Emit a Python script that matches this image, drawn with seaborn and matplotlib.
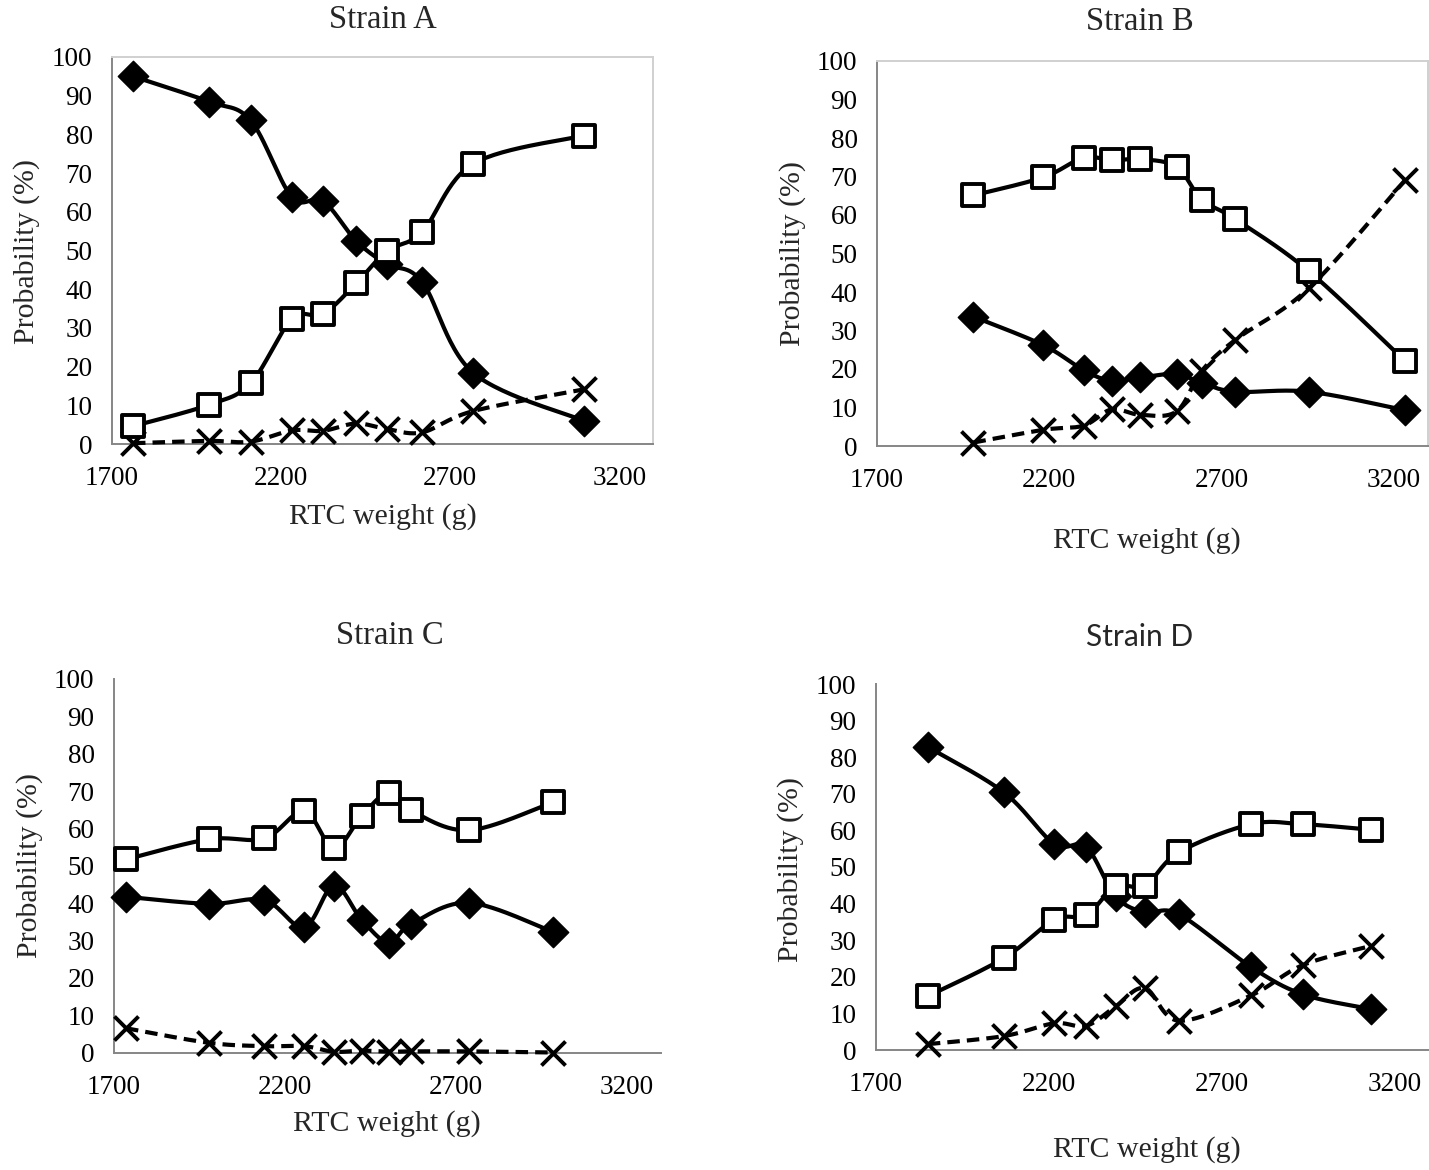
import numpy as np
import pandas as pd
import matplotlib
matplotlib.use("Agg")
import matplotlib.pyplot as plt
import seaborn as sns

# ---- data: RTC weight (g) and probability (%) per strain ----
weight_a = [1762, 1986, 2110, 2232, 2324, 2422, 2512, 2617, 2768, 3095]
diamond_a = [95.0, 88.5, 83.6, 63.8, 62.8, 52.5, 46.5, 41.9, 18.4, 6.0]
square_a = [4.6, 10.1, 15.7, 32.3, 33.6, 41.5, 49.8, 54.8, 72.4, 79.7]
cross_a = [0.2, 0.8, 0.6, 3.5, 3.4, 5.3, 3.9, 3.0, 8.5, 14.1]

weight_b = [1980, 2183, 2300, 2381, 2465, 2570, 2643, 2741, 2954, 3233]
diamond_b = [33.6, 26.2, 19.7, 16.9, 17.8, 18.7, 16.4, 14.1, 14.1, 9.3]
square_b = [65.1, 69.8, 74.9, 74.2, 74.5, 72.5, 64.0, 58.9, 45.4, 22.1]
cross_b = [0.9, 4.2, 5.3, 9.5, 8.1, 9.0, 19.5, 27.6, 41.0, 69.0]

weight_c = [1735, 1977, 2140, 2256, 2343, 2424, 2503, 2568, 2738, 2984]
diamond_c = [41.7, 39.8, 40.8, 33.5, 44.7, 35.6, 29.4, 34.3, 40.1, 32.3]
square_c = [51.7, 57.1, 57.3, 64.6, 54.7, 63.3, 69.6, 64.8, 59.5, 67.0]
cross_c = [6.5, 2.6, 1.7, 1.7, 0.2, 0.5, 0.2, 0.3, 0.3, 0.0]

weight_d = [1850, 2070, 2216, 2308, 2393, 2478, 2576, 2785, 2935, 3131]
diamond_d = [82.8, 70.4, 56.3, 55.5, 42.0, 37.6, 37.1, 22.7, 15.2, 11.2]
square_d = [14.7, 25.1, 35.6, 36.8, 44.7, 44.9, 54.0, 61.7, 61.7, 60.2]
cross_d = [1.6, 3.8, 7.3, 6.6, 11.9, 16.9, 8.0, 14.9, 23.2, 28.4]

titles = ["Strain A", "Strain B", "Strain C", "Strain D"]
x_ticks = [1700, 2200, 2700, 3200]
y_ticks = list(range(0, 101, 10))

sns.set_style("white")
plt.rcParams["font.family"] = ["Liberation Serif", "DejaVu Serif"]

W, H = 1429, 1170
fig = plt.figure(figsize=(W / 100, H / 100), dpi=100)


def px_box(left, right, top, bottom):
    return [left / W, 1 - bottom / H, (right - left) / W, (bottom - top) / H]


def smooth(xs, ys, n=30):
    """Cubic Bezier curve through the points (spreadsheet-style smoothing)."""
    p = np.column_stack([xs, ys]).astype(float)
    pts = []
    for i in range(len(p) - 1):
        p0 = p[i - 1] if i > 0 else p[i]
        p1, p2 = p[i], p[i + 1]
        p3 = p[i + 2] if i + 2 < len(p) else p[i + 1]
        c1 = p1 + (p2 - p0) / 6.0
        c2 = p2 - (p3 - p1) / 6.0
        t = np.linspace(0, 1, n)[:, None]
        seg = ((1 - t) ** 3) * p1 + 3 * ((1 - t) ** 2) * t * c1 \
            + 3 * (1 - t) * t ** 2 * c2 + t ** 3 * p2
        pts.append(seg if i == 0 else seg[1:])
    return np.vstack(pts)


panels = [
    dict(x=weight_a, d=diamond_a, s=square_a, c=cross_a,
         box=px_box(112, 653, 57, 444), framed=True,
         title=(383, 20), xlab=(383, 517), ylab=(27, 252)),
    dict(x=weight_b, d=diamond_b, s=square_b, c=cross_b,
         box=px_box(877, 1428, 61, 446), framed=True,
         title=(1140, 22), xlab=(1147, 541), ylab=(793, 253)),
    dict(x=weight_c, d=diamond_c, s=square_c, c=cross_c,
         box=px_box(114, 661, 679, 1052.5), framed=False,
         title=(390, 636), xlab=(387, 1124), ylab=(30, 865)),
    dict(x=weight_d, d=diamond_d, s=square_d, c=cross_d,
         box=px_box(876, 1429, 684, 1050), framed=False,
         title=(1140, 637), xlab=(1147, 1150), ylab=(791, 869)),
]

axis_grey = "#868686"
frame_grey = "#d0d0d0"
lw = 3.0

for k, pnl in enumerate(panels):
    ax = fig.add_axes(pnl["box"])
    ax.set_xlim(1700, 3300)
    ax.set_ylim(0, 100)

    # dashed series with crosses
    cc = smooth(pnl["x"], pnl["c"])
    ax.plot(cc[:, 0], cc[:, 1], color="black", lw=lw, ls=(0, (3.0, 1.7)),
            dash_capstyle="butt", zorder=3, clip_on=False)
    sns.scatterplot(x=pnl["x"], y=pnl["c"], ax=ax, marker="x", s=300,
                    color="black", linewidth=2.8, zorder=4, clip_on=False)

    # solid series with filled diamonds
    dd = smooth(pnl["x"], pnl["d"])
    ax.plot(dd[:, 0], dd[:, 1], color="black", lw=lw, zorder=5,
            solid_capstyle="round", clip_on=False)
    sns.scatterplot(x=pnl["x"], y=pnl["d"], ax=ax, marker="D", s=240,
                    color="black", edgecolor="black", linewidth=1,
                    zorder=6, clip_on=False)

    # solid series with open squares
    ss = smooth(pnl["x"], pnl["s"])
    ax.plot(ss[:, 0], ss[:, 1], color="black", lw=lw, zorder=7,
            solid_capstyle="round", clip_on=False)
    sns.scatterplot(x=pnl["x"], y=pnl["s"], ax=ax, marker="s", s=230,
                    color="white", edgecolor="black", linewidth=2.8,
                    zorder=8, clip_on=False)

    ax.set_xticks(x_ticks)
    ax.set_yticks(y_ticks)
    ax.tick_params(axis="both", direction="out", length=6, width=1.2,
                   color=axis_grey, labelsize=19.5, labelcolor="black")
    ax.tick_params(axis="y", pad=8)
    ax.tick_params(axis="x", pad=10)
    for side in ("left", "bottom"):
        ax.spines[side].set_color(axis_grey)
        ax.spines[side].set_linewidth(1.4)
    for side in ("top", "right"):
        if pnl["framed"]:
            ax.spines[side].set_color(frame_grey)
            ax.spines[side].set_linewidth(1.4)
        else:
            ax.spines[side].set_visible(False)
    ax.set_xlabel("")
    ax.set_ylabel("")

    tx, ty = pnl["title"]
    if k == 3:
        fig.text(tx / W, 1 - ty / H, titles[k], ha="center", va="center",
                 fontsize=21.5, family=["Lato", "DejaVu Sans"])
    else:
        fig.text(tx / W, 1 - ty / H, titles[k], ha="center", va="center",
                 fontsize=23.5)
    lx, ly = pnl["xlab"]
    fig.text(lx / W, 1 - ly / H, "RTC weight (g)", ha="center", va="center",
             fontsize=21.5)
    yx, yy = pnl["ylab"]
    fig.text(yx / W, 1 - yy / H, "Probability (%)", ha="center", va="center",
             fontsize=21.5, rotation=90)

fig.savefig("out.png", dpi=100, facecolor="white")
